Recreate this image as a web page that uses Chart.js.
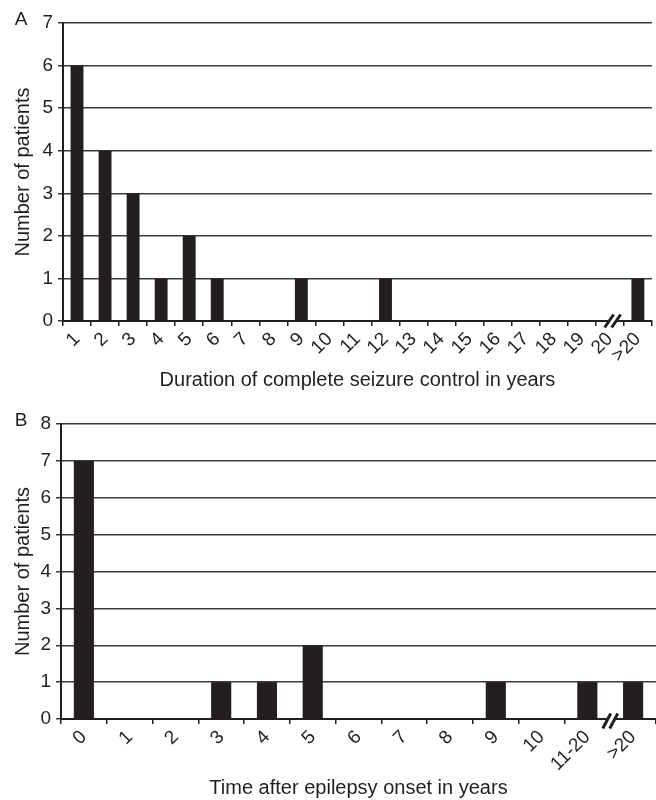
<!DOCTYPE html>
<html>
<head>
<meta charset="utf-8">
<script src="https://cdn.jsdelivr.net/npm/chart.js@4/dist/chart.umd.min.js"></script>
<style>
  html, body { margin: 0; padding: 0; background: #fff; }
  .panel { position: absolute; left: 0; width: 656px; }
  #panelA { top: 0; height: 395px; }
  #panelB { top: 395px; height: 405px; }
</style>
</head>
<body>
<div class="panel" id="panelA"><canvas id="chartA"></canvas></div>
<div class="panel" id="panelB"><canvas id="chartB"></canvas></div>
<script>
// --- data ---------------------------------------------------------------
const durationLabels = ['1', '2', '3', '4', '5', '6', '7', '8', '9', '10',
  '11', '12', '13', '14', '15', '16', '17', '18', '19', '20', '>20']
const durationPatients = [6, 4, 3, 1, 2, 1, 0, 0, 1, 0, 0, 1, 0, 0, 0, 0, 0, 0, 0, 0, 1]

const onsetLabels = ['0', '1', '2', '3', '4', '5', '6', '7', '8', '9', '10', '11-20', '>20']
const onsetPatients = [7, 0, 0, 1, 1, 2, 0, 0, 0, 1, 0, 1, 1]

const INK = '#231f20'
const FONT = 'Liberation Sans, Arial, Helvetica, sans-serif'

// Panel letter ("A" / "B") in the top left corner
const panelLetter = {
    id: 'panelLetter',
    afterDraw(chart, args, opts) {
        const ctx = chart.ctx
        ctx.save()
        ctx.fillStyle = INK
        ctx.font = `19px ${FONT}`
        ctx.textAlign = 'center'
        ctx.textBaseline = 'middle'
        ctx.fillText(opts.text, opts.x, opts.y)
        ctx.restore()
    }
}

// Axis break mark "//" sitting on the x axis
const axisBreak = {
    id: 'axisBreak',
    afterDraw(chart, args, opts) {
        const ctx = chart.ctx
        const x = chart.scales.x.getPixelForValue(opts.at)
        const y = chart.chartArea.bottom + (opts.dy || 0)
        const h = opts.h, w = opts.w, gap = opts.gap
        ctx.save()
        // white gap cutting the axis line
        ctx.fillStyle = '#fff'
        ctx.beginPath()
        ctx.moveTo(x - gap / 2 - w / 2, y + h / 2)
        ctx.lineTo(x - gap / 2 + w / 2, y - h / 2)
        ctx.lineTo(x + gap / 2 + w / 2, y - h / 2)
        ctx.lineTo(x + gap / 2 - w / 2, y + h / 2)
        ctx.closePath()
        ctx.fill()
        // the two slashes
        ctx.strokeStyle = INK
        ctx.lineWidth = 3
        ;[-gap / 2, gap / 2].forEach(off => {
            ctx.beginPath()
            ctx.moveTo(x + off - w / 2, y + h / 2)
            ctx.lineTo(x + off + w / 2, y - h / 2)
            ctx.stroke()
        })
        ctx.restore()
    }
}

function makeChart(canvas, cfg) {
    return new Chart(canvas, {
        type: 'bar',
        data: {
            labels: cfg.labels,
            datasets: [{
                data: cfg.values,
                backgroundColor: INK,
                borderWidth: 0,
                categoryPercentage: 1,
                barPercentage: cfg.barPercentage
            }]
        },
        options: {
            responsive: true,
            maintainAspectRatio: false,
            animation: false,
            layout: { padding: { top: cfg.top, right: 0, bottom: 0, left: 0 } },
            plugins: {
                legend: { display: false },
                tooltip: { enabled: false },
                panelLetter: cfg.letter,
                axisBreak: cfg.axisBreak
            },
            scales: {
                x: {
                    afterFit: scale => { scale.height = cfg.xHeight },
                    grid: {
                        drawOnChartArea: false,
                        drawTicks: true,
                        tickLength: 5,
                        color: INK,
                        lineWidth: 1.5,
                        offset: true
                    },
                    border: { color: INK, width: 2 },
                    ticks: {
                        autoSkip: false,
                        minRotation: 45,
                        maxRotation: 45,
                        padding: 2,
                        color: INK,
                        font: { family: FONT, size: 19 }
                    },
                    title: {
                        display: true,
                        text: cfg.xTitle,
                        color: INK,
                        font: { family: FONT, size: 20 },
                        padding: { top: 0, bottom: cfg.xTitlePad }
                    }
                },
                y: {
                    min: 0,
                    max: cfg.yMax,
                    afterFit: scale => { scale.width = cfg.yWidth },
                    grid: {
                        color: '#3a3a3a',
                        lineWidth: 1.5,
                        tickLength: 5
                    },
                    border: { color: INK, width: 2 },
                    ticks: {
                        stepSize: 1,
                        padding: 5,
                        color: INK,
                        font: { family: FONT, size: 19 }
                    },
                    title: {
                        display: true,
                        text: 'Number of patients',
                        color: INK,
                        font: { family: FONT, size: 20 },
                        padding: { top: 11, bottom: 0 }
                    }
                }
            }
        },
        plugins: [panelLetter, axisBreak]
    })
}

makeChart(document.getElementById('chartA'), {
    labels: durationLabels,
    values: durationPatients,
    barPercentage: 0.46,
    yMax: 7,
    top: 23,
    yWidth: 63,
    xHeight: 74,
    xTitle: 'Duration of complete seizure control in years',
    xTitlePad: 3,
    letter: { text: 'A', x: 21, y: 20 },
    axisBreak: { at: 19.1, h: 13, w: 9, gap: 7, dy: 0 }
})

makeChart(document.getElementById('chartB'), {
    labels: onsetLabels,
    values: onsetPatients,
    barPercentage: 0.44,
    yMax: 8,
    top: 29,
    yWidth: 61,
    xHeight: 81,
    xTitle: 'Time after epilepsy onset in years',
    xTitlePad: 0,
    letter: { text: 'B', x: 21, y: 26 },
    axisBreak: { at: 11.5, h: 15, w: 8, gap: 7, dy: 2 }
})
</script>
</body>
</html>
